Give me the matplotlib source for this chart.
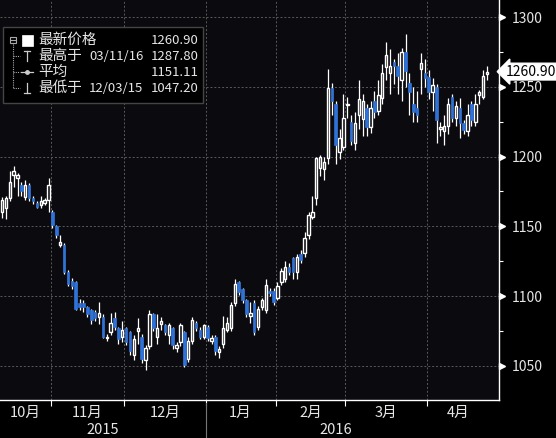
import numpy as np
import matplotlib
matplotlib.use('Agg')
import matplotlib.pyplot as plt
import matplotlib.transforms as mtransforms
from matplotlib.lines import Line2D
from matplotlib.patches import Rectangle

plt.rcParams['font.family'] = ['Noto Sans CJK SC', 'DejaVu Sans']

# daily OHLC, Oct 2015 - Apr 2016
opens = [1160, 1163, 1170, 1187, 1185, 1180, 1171, 1180, 1170, 1167, 1165, 1167, 1169,
         1160, 1150, 1137, 1137, 1117, 1111, 1110, 1095, 1095, 1092, 1090, 1089, 1085, 1085,
         1070, 1074, 1084, 1077, 1071, 1077,
         1074, 1058, 1075, 1071, 1054, 1064, 1087, 1071, 1080, 1079, 1072, 1077, 1063, 1067,
         1074, 1055, 1068, 1081, 1076, 1071, 1078,
         1068, 1071, 1060, 1066, 1076, 1077, 1095, 1110, 1105, 1097, 1086, 1095, 1078, 1092,
         1090, 1104, 1104,
         1099, 1110, 1112, 1121, 1127, 1117, 1130, 1131, 1144, 1157, 1170, 1192, 1191, 1199,
         1249, 1238, 1203, 1207,
         1237, 1225, 1210, 1230, 1227, 1235, 1221, 1240, 1233, 1242, 1264, 1260, 1268, 1265,
         1255, 1275, 1253, 1238, 1235, 1263, 1260,
         1257, 1246, 1250, 1220, 1218, 1222, 1243, 1228, 1235, 1224, 1218, 1238, 1225, 1244,
         1243, 1259]
highs = [1171, 1172, 1190, 1193, 1188, 1182, 1183, 1181, 1172, 1168, 1172, 1170, 1185,
         1162, 1151, 1144, 1138, 1119, 1113, 1111, 1098, 1097, 1093, 1091, 1090, 1096, 1087,
         1073, 1088, 1089, 1078, 1082, 1078,
         1075, 1072, 1084, 1073, 1065, 1090, 1088, 1087, 1085, 1080, 1081, 1078, 1067, 1081,
         1075, 1071, 1085, 1082, 1078, 1080, 1079,
         1072, 1072, 1064, 1086, 1085, 1096, 1112, 1111, 1106, 1098, 1096, 1097, 1093, 1099,
         1112, 1106, 1106,
         1110, 1120, 1125, 1124, 1128, 1130, 1133, 1146, 1160, 1172, 1200, 1201, 1200, 1263,
         1253, 1240, 1220, 1245,
         1243, 1230, 1232, 1255, 1245, 1238, 1240, 1247, 1255, 1266, 1282, 1277, 1270, 1274,
         1278, 1287.8, 1260, 1250, 1247, 1274, 1270,
         1262, 1256, 1252, 1225, 1230, 1242, 1245, 1240, 1242, 1226, 1238, 1240, 1245, 1248,
         1262, 1265]
lows = [1156, 1155, 1168, 1178, 1172, 1172, 1169, 1168, 1166, 1163, 1163, 1165, 1160,
        1149, 1142, 1135, 1116, 1107, 1105, 1090, 1090, 1089, 1085, 1080, 1082, 1080, 1070,
        1068, 1072, 1076, 1066, 1067, 1065,
        1058, 1054, 1066, 1052, 1047.2, 1062, 1075, 1066, 1076, 1072, 1066, 1062, 1060, 1064,
        1049, 1053, 1066, 1075, 1069, 1069, 1068,
        1066, 1058, 1056, 1063, 1074, 1075, 1093, 1101, 1095, 1085, 1081, 1072, 1076, 1090,
        1088, 1100, 1094,
        1097, 1108, 1110, 1115, 1112, 1112, 1124, 1128, 1141, 1155, 1165, 1186, 1183, 1195,
        1230, 1195, 1198, 1205,
        1228, 1208, 1205, 1220, 1215, 1215, 1217, 1228, 1230, 1238, 1255, 1245, 1252, 1245,
        1240, 1250, 1230, 1225, 1225, 1245, 1250,
        1241, 1233, 1210, 1215, 1208, 1216, 1225, 1222, 1213, 1216, 1215, 1222, 1222, 1238,
        1241, 1255]
closes = [1169, 1170, 1182, 1190, 1187, 1175, 1180, 1170, 1168, 1164, 1168, 1169, 1180,
          1151, 1144, 1139, 1117, 1109, 1107, 1091, 1092, 1092, 1087, 1083, 1084, 1088, 1071,
          1071, 1081, 1078, 1069, 1076, 1067,
          1061, 1069, 1077, 1055, 1063, 1087, 1077, 1077, 1082, 1074, 1079, 1065, 1065, 1079,
          1051, 1068, 1083, 1077, 1071, 1079, 1070,
          1070, 1061, 1062, 1077, 1081, 1094, 1109, 1103, 1097, 1087, 1088, 1074, 1091, 1097,
          1108, 1102, 1096,
          1107, 1118, 1121, 1117, 1117, 1128, 1126, 1142, 1158, 1160, 1199, 1200, 1196, 1249,
          1240, 1208, 1213, 1228,
          1238, 1211, 1224, 1241, 1240, 1221, 1235, 1232, 1244, 1260, 1273, 1265, 1265, 1258,
          1275, 1261, 1246, 1232, 1230, 1267, 1256,
          1246, 1251, 1226, 1221, 1222, 1238, 1228, 1236, 1224, 1219, 1230, 1226, 1238, 1246,
          1258, 1260.9]

month_labels = ['10月', '11月', '12月', '1月', '2月', '3月', '4月']
month_edges = [-0.5, 12.5, 31.5, 52.5, 70.5, 88.5, 109.5, 125.5]
year_labels = ['2015', '2016']
year_pos = [26, 86]
last_price = 1260.90

legend_rows = [('最新价格', '', '1260.90'),
               ('最高于', '03/11/16', '1287.80'),
               ('平均', '', '1151.11'),
               ('最低于', '12/03/15', '1047.20')]

bg = '#0b0b0f'
blue = '#2f72d8'
txt = '#e6e6e6'
W, H = 556, 438

fig = plt.figure(figsize=(W / 100, H / 100), dpi=100, facecolor='black')
ax = fig.add_axes([0, 1 - 400 / H, 499 / W, 400 / H])
ax.set_facecolor(bg)

o = np.array(opens, float)
h = np.array(highs, float)
l = np.array(lows, float)
c = np.array(closes, float)
x = np.arange(len(c))
up = c >= o
dn = ~up

ax.vlines(x, l, h, color='white', lw=0.9, zorder=2)
ax.bar(x[up], np.maximum(c[up] - o[up], 0.5), bottom=o[up], width=0.62,
       facecolor=bg, edgecolor='white', lw=1.0, zorder=3)
ax.bar(x[dn], o[dn] - c[dn], bottom=c[dn], width=0.66,
       facecolor=blue, edgecolor=blue, lw=0.5, zorder=3)

ax.set_xlim(-0.52, 128.1)
ax.set_ylim(1025.6, 1312.2)

# grid
yt = np.arange(1050, 1301, 50)
ax.set_yticks(yt)
ax.set_yticks(np.arange(1075, 1301, 50), minor=True)
ax.grid(axis='y', which='major', color='#5a5a5a', ls=(0, (2, 2)), lw=0.7, zorder=0)
for e in month_edges[1:-1]:
    ax.axvline(e, color='#5a5a5a', ls=(0, (2, 2)), lw=0.7, zorder=0)

ax.yaxis.tick_right()
ax.tick_params(axis='y', which='major', length=0, pad=9, labelcolor=txt, labelsize=10)
ax.tick_params(axis='y', which='minor', length=3, width=0.8, color='white', direction='out')
ax.set_xticks(month_edges[1:-1])
ax.set_xticklabels([])
ax.tick_params(axis='x', length=4, width=0.8, color='white', direction='out')

for s in ['top', 'left']:
    ax.spines[s].set_visible(False)
for s in ['right', 'bottom']:
    ax.spines[s].set_color('white')
    ax.spines[s].set_linewidth(1)

trans_y = mtransforms.blended_transform_factory(ax.transAxes, ax.transData)
ax.plot(np.full(len(yt), 1.007), yt, ls='', marker='>', ms=4, color='white',
        transform=trans_y, clip_on=False)

ax.text(1.014, last_price, '1260.90', transform=trans_y, va='center', ha='left',
        fontsize=10, color='black', zorder=6,
        bbox=dict(boxstyle='larrow,pad=0.1', fc='white', ec='white'))

# x labels
trans_x = mtransforms.blended_transform_factory(ax.transData, fig.transFigure)
for i, lab in enumerate(month_labels):
    mid = (month_edges[i] + month_edges[i + 1]) / 2
    ax.text(mid, 1 - 413 / H, lab, transform=trans_x, ha='center', va='center',
            color=txt, fontsize=10.5, clip_on=False)
for p, lab in zip(year_pos, year_labels):
    ax.text(p, 1 - 430 / H, lab, transform=trans_x, ha='center', va='center',
            color=txt, fontsize=10.5, clip_on=False)
ax.plot([52.5, 52.5], [0, 1 - 403 / H], transform=trans_x, color='#777777',
        lw=0.8, clip_on=False)

# legend box
def fx(px):
    return px / W

def fy(py):
    return 1 - py / H

fig.patches.append(Rectangle((fx(3), fy(103)), fx(203) - fx(3), fy(27) - fy(103),
                             transform=fig.transFigure, fc='black', ec='#444444',
                             lw=1, zorder=5))
rows_y = [40, 56, 72, 88]
for (name, date, val), py in zip(legend_rows, rows_y):
    fig.text(fx(38), fy(py), name, color=txt, fontsize=10.5, va='center', ha='left', zorder=6)
    if date:
        fig.text(fx(89), fy(py), date, color=txt, fontsize=9.5, va='center', ha='left', zorder=6)
    fig.text(fx(199), fy(py), val, color=txt, fontsize=9.5, va='center', ha='right', zorder=6)

def fline(xs, ys, **kw):
    fig.lines.append(Line2D([fx(v) for v in xs], [fy(v) for v in ys],
                            transform=fig.transFigure, zorder=6, **kw))

dot = dict(color='#aaaaaa', lw=0.8, ls=(0, (1, 1)))
fline([13, 13], [44, 88], **dot)
for py in rows_y[1:]:
    fline([13, 20], [py, py], **dot)
# expand box icon
fig.patches.append(Rectangle((fx(10), fy(43)), fx(16) - fx(10), fy(37) - fy(43),
                             transform=fig.transFigure, fc='none', ec='#aaaaaa',
                             lw=0.8, zorder=6))
fline([11, 15], [40, 40], color='#aaaaaa', lw=0.8)
# white square
fig.patches.append(Rectangle((fx(22), fy(46)), fx(33) - fx(22), fy(35) - fy(46),
                             transform=fig.transFigure, fc='white', ec='white',
                             lw=0.5, zorder=6))
# high icon
fline([27, 27], [51, 61], color='#cccccc', lw=0.9)
fline([24, 30], [51, 51], color='#cccccc', lw=0.9)
# average icon
fline([21, 33], [72, 72], color='#cccccc', lw=0.9)
fig.lines.append(Line2D([fx(27)], [fy(72)], marker='o', ms=2.5, color='#cccccc',
                        transform=fig.transFigure, zorder=6))
# low icon
fline([27, 27], [83, 93], color='#cccccc', lw=0.9)
fline([24, 30], [93, 93], color='#cccccc', lw=0.9)

fig.savefig('out.png', dpi=100, facecolor='black')
